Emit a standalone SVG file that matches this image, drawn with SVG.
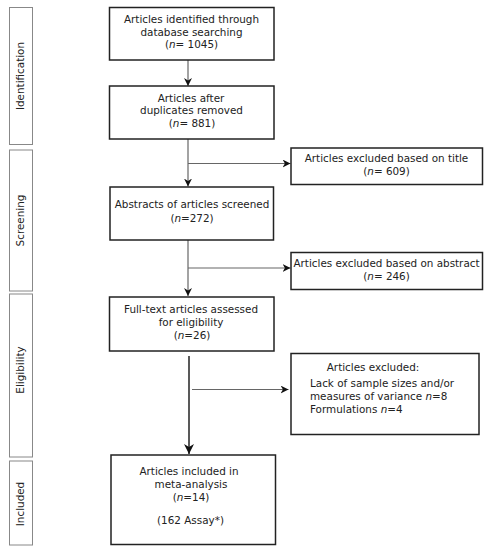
<svg xmlns="http://www.w3.org/2000/svg" width="489" height="550" viewBox="0 0 489 550">
<defs>
<style>
text{font-family:"DejaVu Sans","Verdana",sans-serif;font-size:10.4px;fill:#222}
.c{text-anchor:middle}
.box{fill:#fff;stroke:#222;stroke-width:1.5}
.side{fill:#fff;stroke:#888;stroke-width:1}
.ln{stroke:#666;stroke-width:1.2;fill:none}
</style>
<marker id="ah" viewBox="0 0 10 10" refX="10" refY="5" markerWidth="8" markerHeight="8" markerUnits="userSpaceOnUse" orient="auto">
<path d="M0,0 L10,5 L0,10 L3,5 Z" fill="#111"/>
</marker>
<marker id="ah2" viewBox="0 0 10 10" refX="10" refY="5" markerWidth="10" markerHeight="10" markerUnits="userSpaceOnUse" orient="auto">
<path d="M0,0 L10,5 L0,10 L3,5 Z" fill="#111"/>
</marker>
</defs>
<rect width="489" height="550" fill="#fff"/>
<g id="stage-identification"><rect class="side" x="9.5" y="7.5" width="23" height="137"/><text class="c" transform="translate(24,76) rotate(-90)">Identification</text></g>
<g id="stage-screening"><rect class="side" x="9.5" y="150" width="23" height="141"/><text class="c" transform="translate(24,220.5) rotate(-90)">Screening</text></g>
<g id="stage-eligibility"><rect class="side" x="9.5" y="294" width="23" height="163"/><text class="c" transform="translate(24,370) rotate(-90)">Eligibility</text></g>
<g id="stage-included"><rect class="side" x="9.5" y="461" width="23" height="84"/><text class="c" transform="translate(24,504) rotate(-90)">Included</text></g>
<g id="connectors">
<line class="ln" x1="188" y1="60" x2="188" y2="86" marker-end="url(#ah)"/>
<line class="ln" x1="188" y1="139" x2="188" y2="186.5" marker-end="url(#ah)"/>
<line class="ln" x1="188" y1="163.5" x2="290.5" y2="163.5" marker-end="url(#ah)"/>
<line class="ln" x1="188" y1="240" x2="188" y2="296" marker-end="url(#ah)"/>
<line class="ln" x1="188" y1="268" x2="290.5" y2="268" marker-end="url(#ah)"/>
<line x1="189" y1="356" x2="189" y2="454" stroke="#222" stroke-width="1.5" marker-end="url(#ah2)"/>
<line class="ln" x1="192" y1="389.5" x2="288.5" y2="389.5" marker-end="url(#ah)"/>
</g>
<g id="n1"><rect class="box" x="109.5" y="7.5" width="164.5" height="52.5"/>
<text class="c" x="191.5" y="23.3">Articles identified through</text>
<text class="c" x="191.5" y="35.8">database searching</text>
<text class="c" x="191.5" y="48.3">(<tspan font-style="italic">n</tspan>= 1045)</text></g>
<g id="n2"><rect class="box" x="109.5" y="86" width="164.5" height="53"/>
<text class="c" x="191" y="101.7">Articles after</text>
<text class="c" x="191.5" y="114.3">duplicates removed</text>
<text class="c" x="192" y="127">(<tspan font-style="italic">n</tspan>= 881)</text></g>
<g id="n3"><rect class="box" x="291" y="148" width="191.5" height="36.5"/>
<text class="c" x="386.5" y="161.7">Articles excluded based on title</text>
<text class="c" x="386.5" y="175">(<tspan font-style="italic">n</tspan>= 609)</text></g>
<g id="n4"><rect class="box" x="110" y="187" width="163.5" height="53"/>
<text class="c" x="192" y="208">Abstracts of articles screened</text>
<text class="c" x="192" y="221.5">(<tspan font-style="italic">n</tspan>=272)</text></g>
<g id="n5"><rect class="box" x="291" y="252.5" width="191.5" height="37"/>
<text class="c" x="386.5" y="266.7">Articles excluded based on abstract</text>
<text class="c" x="386.5" y="280">(<tspan font-style="italic">n</tspan>= 246)</text></g>
<g id="n6"><rect class="box" x="109.5" y="297" width="164.5" height="54"/>
<text class="c" x="191" y="313">Full-text articles assessed</text>
<text class="c" x="191" y="326">for eligibility</text>
<text class="c" x="192" y="339">(<tspan font-style="italic">n</tspan>=26)</text></g>
<g id="n7"><rect class="box" x="291" y="353.5" width="188" height="81"/>
<text class="c" x="373" y="370.5">Articles excluded:</text>
<text x="310" y="387.3">Lack of sample sizes and/or</text>
<text x="310" y="400.3">measures of variance <tspan font-style="italic">n</tspan>=8</text>
<text x="310" y="413.3">Formulations <tspan font-style="italic">n</tspan>=4</text></g>
<g id="n8"><rect class="box" x="111" y="455" width="164.5" height="89.5" stroke-width="2"/>
<text class="c" x="189" y="475">Articles included in</text>
<text class="c" x="191" y="487.5">meta-analysis</text>
<text class="c" x="191" y="500.7">(<tspan font-style="italic">n</tspan>=14)</text>
<text class="c" x="190.5" y="524">(162 Assay*)</text></g>
</svg>
